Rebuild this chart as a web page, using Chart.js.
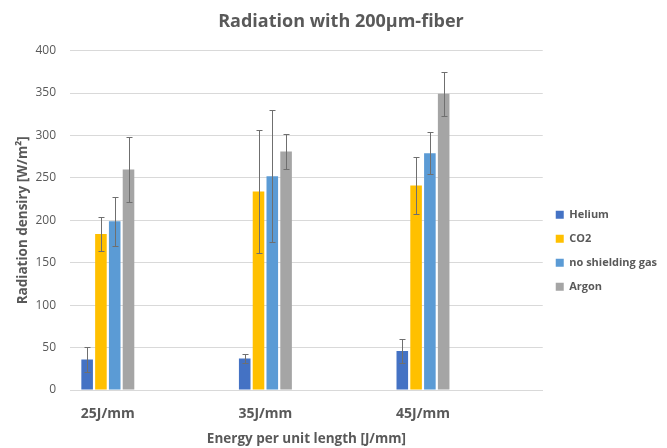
<!DOCTYPE html>
<html>
<head>
<meta charset="utf-8">
<script src="https://cdn.jsdelivr.net/npm/chart.js@4.4.0/dist/chart.umd.min.js"></script>
<style>
html, body { margin: 0; padding: 0; background: #fff; }
</style>
</head>
<body>
<canvas id="barChart" width="667" height="448"></canvas>
<script>
// ===== DATA =====
const categories = ["25J/mm", "35J/mm", "45J/mm"];
const helium = [36, 37, 46];
const heliumErr = [15, 5, 14];
const co2 = [184, 234, 241];
const co2Err = [20, 72, 34];
const noGas = [199, 252, 279];
const noGasErr = [29, 78, 25];
const argon = [260, 281, 349];
const argonErr = [38, 21, 26];
const yTicks = [0, 50, 100, 150, 200, 250, 300, 350, 400];

const textColor = "#595959";
const fontFamily = "'Open Sans', sans-serif";

function points(values) {
    return values.map((v, i) => ({ x: i, y: v }));
}

// ===== ERROR BARS =====
const errorBars = {
    id: "errorBars",
    afterDatasetsDraw(chart) {
        const ctx = chart.ctx;
        const yScale = chart.scales.y;
        ctx.save();
        ctx.strokeStyle = "#6f6f6f";
        ctx.lineWidth = 1;
        chart.data.datasets.forEach((ds, di) => {
            const meta = chart.getDatasetMeta(di);
            meta.data.forEach((bar, i) => {
                const v = ds.data[i].y;
                const e = ds.errors[i];
                const x = Math.round(bar.x) + 0.5;
                const top = Math.round(yScale.getPixelForValue(v + e)) + 0.5;
                const bot = Math.round(yScale.getPixelForValue(v - e)) + 0.5;
                ctx.beginPath();
                ctx.moveTo(x, top);
                ctx.lineTo(x, bot);
                ctx.moveTo(x - 3, top);
                ctx.lineTo(x + 3, top);
                ctx.moveTo(x - 3, bot);
                ctx.lineTo(x + 3, bot);
                ctx.stroke();
            });
        });
        ctx.restore();
    }
};

// ===== BAR CHART =====
const ctx = document.getElementById("barChart").getContext("2d");
new Chart(ctx, {
    type: "bar",
    data: {
        datasets: [
            { label: "Helium", data: points(helium), errors: heliumErr, backgroundColor: "#4472c4" },
            { label: "CO2", data: points(co2), errors: co2Err, backgroundColor: "#ffc000" },
            { label: "no shielding gas", data: points(noGas), errors: noGasErr, backgroundColor: "#5b9bd5" },
            { label: "Argon", data: points(argon), errors: argonErr, backgroundColor: "#a5a5a5" }
        ]
    },
    options: {
        responsive: false,
        animation: false,
        categoryPercentage: 0.35,
        barPercentage: 0.84,
        layout: { padding: { left: 15, right: 0, top: 8, bottom: 1 } },
        plugins: {
            tooltip: { enabled: false },
            title: {
                display: true,
                text: "Radiation with 200µm-fiber",
                color: textColor,
                font: { family: fontFamily, size: 18, weight: "bold" },
                padding: { top: 3, bottom: 18 }
            },
            legend: {
                position: "right",
                title: { display: true, text: "", padding: { top: 16, bottom: 16 } },
                labels: {
                    color: textColor,
                    boxWidth: 8,
                    boxHeight: 8,
                    padding: 13,
                    font: { family: fontFamily, size: 11, weight: "bold" }
                }
            }
        },
        scales: {
            x: {
                type: "linear",
                min: -0.24,
                max: 2.76,
                offset: false,
                afterBuildTicks: (scale) => {
                    scale.ticks = categories.map((c, i) => ({ value: i }));
                },
                ticks: {
                    color: textColor,
                    font: { family: fontFamily, size: 14, weight: "bold" },
                    padding: 8,
                    callback: (value) => categories[value]
                },
                grid: { display: false },
                border: { color: "#d9d9d9" },
                title: {
                    display: true,
                    text: "Energy per unit length [J/mm]",
                    color: textColor,
                    font: { family: fontFamily, size: 13.5, weight: "bold" },
                    padding: { top: 0, bottom: 0 }
                }
            },
            y: {
                min: 0,
                max: 400,
                afterBuildTicks: (scale) => {
                    scale.ticks = yTicks.map(v => ({ value: v }));
                },
                afterFit: (scale) => {
                    scale.width = 55;
                },
                ticks: {
                    color: textColor,
                    font: { family: fontFamily, size: 12 },
                    padding: 14
                },
                grid: { color: "#d9d9d9", drawTicks: false },
                border: { display: false },
                title: {
                    display: true,
                    text: "Radiation densiry [W/m²]",
                    color: textColor,
                    font: { family: fontFamily, size: 13.5, weight: "bold" },
                    padding: { top: 0, bottom: 2 }
                }
            }
        }
    },
    plugins: [errorBars]
});
</script>
</body>
</html>
